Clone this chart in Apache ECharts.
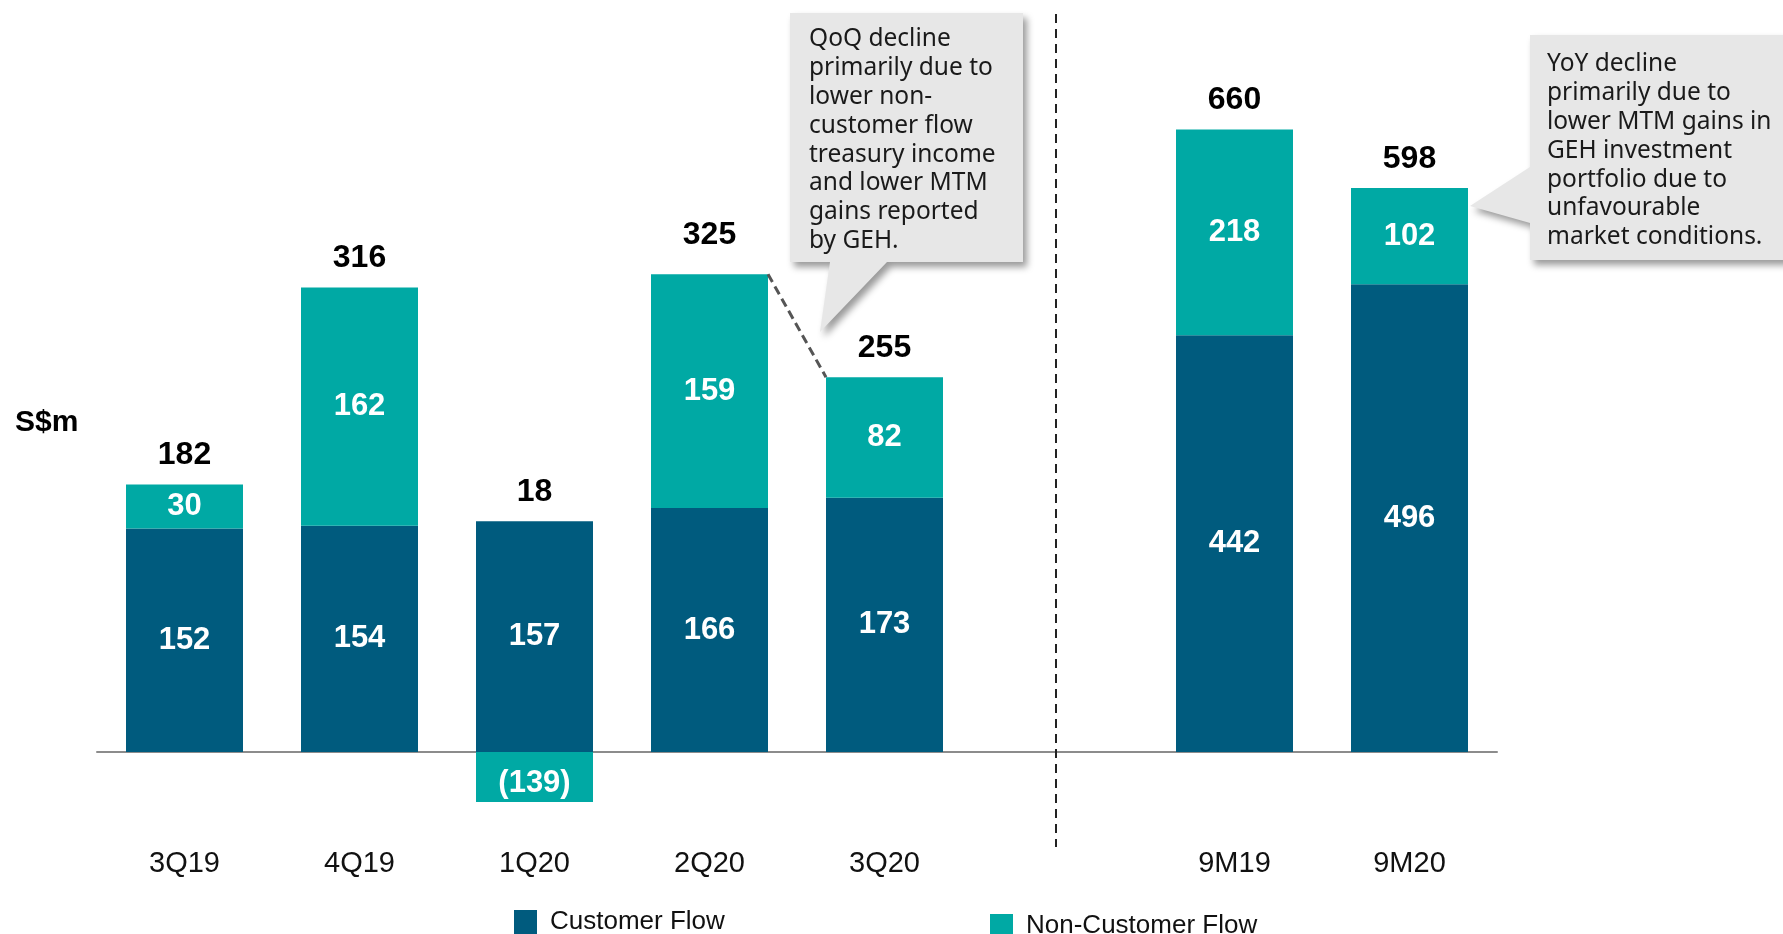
<!DOCTYPE html>
<html>
<head>
<meta charset="utf-8">
<script src="https://cdn.jsdelivr.net/npm/echarts@6/dist/echarts.min.js"></script>
<style>
html,body{margin:0;padding:0;background:#fff;}
#chart{width:1783px;height:934px;}
</style>
</head>
<body>
<div id="chart"></div>
<script>
// ---- data ----
const categories = ['3Q19', '4Q19', '1Q20', '2Q20', '3Q20', '', '9M19', '9M20'];
const panel = ['Q', 'Q', 'Q', 'Q', 'Q', '', '9M', '9M'];
const customerFlow = [152, 154, 157, 166, 173, null, 442, 496];
const nonCustomerFlow = [30, 162, -139, 159, 82, null, 218, 102];
const totalIncome = [182, 316, 18, 325, 255, null, 660, 598];
const seriesNames = ['Customer Flow', 'Non-Customer Flow'];
const unitLabel = 'S$m';
const qoqNote = ['QoQ decline', 'primarily due to', 'lower non-', 'customer flow', 'treasury income', 'and lower MTM', 'gains reported', 'by GEH.'];
const yoyNote = ['YoY decline', 'primarily due to', 'lower MTM gains in', 'GEH investment', 'portfolio due to', 'unfavourable', 'market conditions.'];

// ---- styling ----
const DARK = '#005b7e';
const TEAL = '#00a9a4';
const BAR_W = 117;
const ARIAL = '"Liberation Sans", Arial, Helvetica, sans-serif';
const NOTE_FONT = '"Noto Sans", "DejaVu Sans", sans-serif';
const totalLift = { 3: 10 }; // extra label lift (px) by category index

function pick(arr, p) {
  return arr.map((v, i) => {
    if (panel[i] !== p || v == null) return '-';
    return v < 0 ? { value: v, label: { offset: [0, 6] } } : v;
  });
}
function topOf(i) { return customerFlow[i] + Math.max(0, nonCustomerFlow[i]); }
function pickTop(p) {
  return categories.map((c, i) => panel[i] === p
    ? { value: topOf(i), label: { offset: [0, -29 - (totalLift[i] || 0)] } } : '-');
}
function fmt(v) { return v < 0 ? '(' + (-v) + ')' : String(v); }

const insideLabel = {
  show: true, position: 'inside', color: '#fff', fontWeight: 'bold',
  fontSize: 31, fontFamily: ARIAL,
  formatter: p => fmt(p.value)
};
const totalLabel = {
  show: true, position: 'inside', color: '#000', opacity: 1,
  fontWeight: 'bold', fontSize: 32, fontFamily: ARIAL, textBorderWidth: 0,
  formatter: p => String(totalIncome[p.dataIndex])
};

function barSeries(name, data, color, ax, stack) {
  return {
    name: name, type: 'bar', xAxisIndex: ax, yAxisIndex: ax, stack: stack,
    barWidth: BAR_W, data: data, itemStyle: { color: color },
    label: insideLabel, clip: true, emphasis: { disabled: true }
  };
}
function totalSeries(ax, p) {
  return {
    type: 'scatter', xAxisIndex: ax, yAxisIndex: ax, symbolSize: 1,
    itemStyle: { color: 'rgba(255,255,255,0)' }, data: pickTop(p), label: totalLabel,
    silent: true, z: 5, emphasis: { disabled: true }
  };
}

const chart = echarts.init(document.getElementById('chart'), null, { renderer: 'canvas' });

const option = {
  animation: false,
  backgroundColor: '#fff',
  grid: { left: 97, right: 286, top: 17, bottom: 132, containLabel: false },
  legend: [
    { data: [seriesNames[0]], left: 509, top: 904, itemWidth: 23, itemHeight: 24, icon: 'rect',
      selectedMode: false,
      textStyle: { fontSize: 26, fontFamily: ARIAL, color: '#111', padding: [0, 0, 0, 8] } },
    { data: [seriesNames[1]], left: 985, top: 908, itemWidth: 23, itemHeight: 24, icon: 'rect',
      selectedMode: false,
      textStyle: { fontSize: 26, fontFamily: ARIAL, color: '#111', padding: [0, 0, 0, 8] } }
  ],
  xAxis: [
    { type: 'category', data: categories,
      axisLine: { show: true, onZero: true, lineStyle: { color: '#8c8c8c', width: 2 } },
      axisTick: { show: false },
      axisLabel: { margin: 47, fontSize: 29, lineHeight: 30, fontFamily: ARIAL, color: '#111' },
      splitLine: { show: false } },
    { type: 'category', data: categories, show: false }
  ],
  yAxis: [
    { type: 'value', min: -34, max: 500, show: false, splitLine: { show: false } },
    { type: 'value', min: -53, max: 779.4, show: false, splitLine: { show: false } }
  ],
  series: [
    barSeries(seriesNames[0], pick(customerFlow, 'Q'), DARK, 0, 'q'),
    barSeries(seriesNames[1], pick(nonCustomerFlow, 'Q'), TEAL, 0, 'q'),
    barSeries(seriesNames[0], pick(customerFlow, '9M'), DARK, 1, 'y'),
    barSeries(seriesNames[1], pick(nonCustomerFlow, '9M'), TEAL, 1, 'y'),
    totalSeries(0, 'Q'),
    totalSeries(1, '9M')
  ]
};
chart.setOption(option);

// ---- annotations ----
const boxStyle = {
  fill: '#e7e7e7', shadowBlur: 7, shadowOffsetX: 4, shadowOffsetY: 5,
  shadowColor: 'rgba(0,0,0,0.4)'
};
const noteText = (lines, x, y) => ({
  type: 'text', z: 20,
  style: { text: lines.join('\n'), x: x, y: y, fontSize: 24.5, fontFamily: NOTE_FONT,
           lineHeight: 28.8, fill: '#1a1a1a', align: 'left', verticalAlign: 'top' }
});

// dashed connector between 2Q20 top-right and 3Q20 top-left
const a = chart.convertToPixel({ xAxisIndex: 0, yAxisIndex: 0 }, [3, topOf(3)]);
const b = chart.convertToPixel({ xAxisIndex: 0, yAxisIndex: 0 }, [4, topOf(4)]);

chart.setOption({
  graphic: [
    { type: 'line', z: 10, shape: { x1: 1056, y1: 14, x2: 1056, y2: 847 },
      style: { stroke: '#222', lineWidth: 2, lineDash: [9, 6] } },
    { type: 'line', z: 10, shape: { x1: a[0] + BAR_W / 2, y1: a[1], x2: b[0] - BAR_W / 2, y2: b[1] },
      style: { stroke: '#555', lineWidth: 3, lineDash: [9, 5] } },
    { type: 'polygon', z: 15,
      shape: { points: [[790, 13], [1023, 13], [1023, 262], [887, 262], [820, 332], [830, 262], [790, 262]] },
      style: boxStyle },
    noteText(qoqNote, 809, 25),
    { type: 'polygon', z: 15,
      shape: { points: [[1530, 35], [1800, 35], [1800, 260], [1530, 260], [1530, 223], [1470, 206], [1530, 167]] },
      style: boxStyle },
    noteText(yoyNote, 1547, 50),
    { type: 'text', z: 20,
      style: { text: unitLabel, x: 15, y: 423, fontSize: 30, fontWeight: 'bold', fontFamily: ARIAL,
               fill: '#000', verticalAlign: 'middle', align: 'left' } }
  ]
});
</script>
</body>
</html>
